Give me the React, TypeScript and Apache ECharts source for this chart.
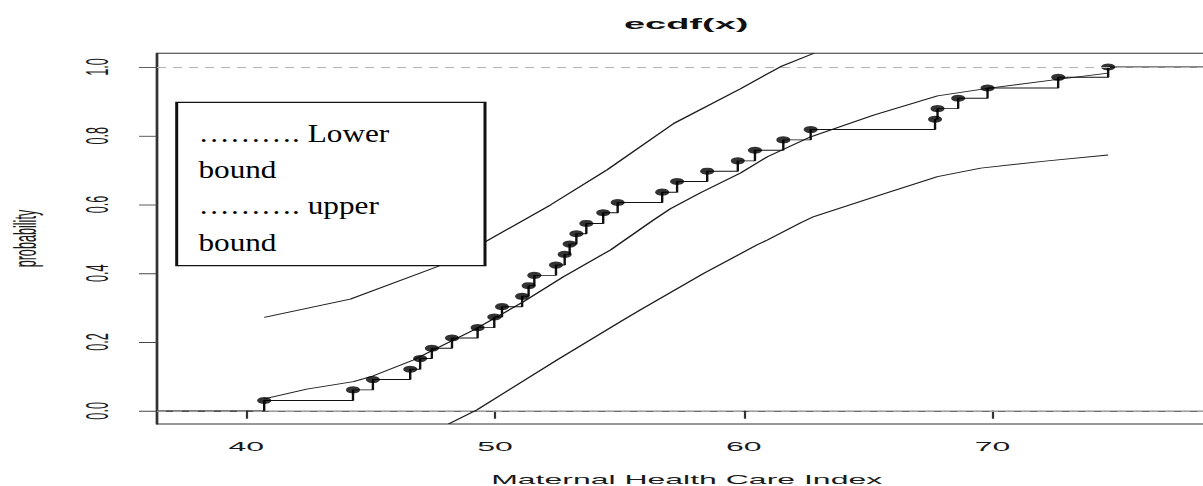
import React, { useEffect, useRef } from "react";
import * as echarts from "echarts";

// ---------- data ----------
const ecdfX = [
  40.72, 44.29, 45.09, 46.59, 46.99, 47.46, 48.27, 49.3, 49.97, 50.28, 51.09,
  51.35, 51.58, 52.45, 52.8, 53.0, 53.27, 53.67, 54.35, 54.93, 56.72, 57.32,
  58.53, 59.76, 60.45, 61.59, 62.69, 67.69, 67.79, 68.62, 69.8, 72.64, 74.65,
];
const ecdfP = [
  0.03, 0.061, 0.091, 0.121, 0.152, 0.182, 0.212, 0.242, 0.273, 0.303, 0.333,
  0.364, 0.394, 0.424, 0.455, 0.485, 0.515, 0.545, 0.576, 0.606, 0.636, 0.667,
  0.697, 0.727, 0.758, 0.788, 0.818, 0.848, 0.879, 0.909, 0.939, 0.97, 1.0,
];
const midX = [
  40.72, 42.43, 44.31, 45.11, 46.72, 47.8, 49.14, 51.14, 52.75, 54.64, 56.37,
  57.05, 58.26, 59.87, 60.95, 62.69, 65.22, 67.79, 69.8, 72.62, 74.65,
];
const midP = [
  0.035, 0.063, 0.085, 0.102, 0.148, 0.187, 0.235, 0.317, 0.39, 0.468, 0.555,
  0.588, 0.634, 0.692, 0.739, 0.797, 0.86, 0.916, 0.938, 0.964, 0.982,
];
const upperX = [40.72, 44.18, 47.67, 49.54, 52.23, 54.51, 57.19, 59.87, 61.48, 62.82];
const upperP = [0.272, 0.325, 0.419, 0.489, 0.599, 0.701, 0.836, 0.937, 1.001, 1.04];
const lowerX = [
  48.13, 49.28, 52.49, 55.17, 55.85, 58.4, 60.54, 60.95, 62.29, 62.82, 65.5,
  67.79, 69.53, 72.21, 74.65,
];
const lowerP = [
  -0.038, 0.003, 0.148, 0.265, 0.294, 0.4, 0.483, 0.497, 0.547, 0.565, 0.628,
  0.681, 0.706, 0.727, 0.744,
];
const refLines = [0, 1];
const xTicks = [40, 50, 60, 70];
const yTicks = [0, 0.2, 0.4, 0.6, 0.8, 1.0];
const legendLines = ["………. Lower", "bound", "………. upper", "bound"];

// ---------- layout (the original figure was stretched horizontally) ----------
const SX = 2;
const SY = 0.79;
const W = 1203 / SX;
const H = 486 / SY;
const X_MIN = 36.41;
const X_MAX = 79.0;
const Y_MIN = -0.038;
const Y_MAX = 1.04;

const FONT = '"Liberation Sans", Arial, Helvetica, sans-serif';
const SERIF = '"Liberation Serif", "Times New Roman", serif';

export default function App() {
  const ref = useRef<HTMLDivElement>(null);

  useEffect(() => {
    if (!ref.current) return;
    const chart = echarts.init(ref.current, undefined, { renderer: "svg" });

    const pxu = 24.85 / SX;
    const gridLeft = 157 / SX;
    const gridW = (X_MAX - X_MIN) * pxu;
    const gridRight = W - gridLeft - gridW;
    const gridTop = 53.24 / SY;
    const gridBottom = (486 - 424.07) / SY;

    const zip = (xs: number[], ys: number[]) => xs.map((x, i) => [x, ys[i]]);
    const stepData = [[X_MIN, 0], ...zip(ecdfX, ecdfP), [X_MAX, 1]];
    const curveStyle = { color: "#1e1e1e", width: 1.1 };

    const legendY = [169.6, 214.6, 260.8, 307.6];

    const option: any = {
      animation: false,
      backgroundColor: "#ffffff",
      title: {
        text: "ecdf(x)",
        left: gridLeft + gridW / 2,
        top: 20,
        textAlign: "center",
        padding: 0,
        textStyle: {
          fontFamily: FONT,
          fontSize: 19,
          fontWeight: "bold",
          color: "#111",
        },
      },
      grid: {
        left: gridLeft,
        right: gridRight,
        top: gridTop,
        bottom: gridBottom,
        containLabel: false,
        outerBoundsMode: "none",
        show: true,
        borderColor: "#333",
        borderWidth: 1.2,
        backgroundColor: "transparent",
      },
      xAxis: {
        type: "value",
        min: X_MIN,
        max: X_MAX,
        name: "Maternal Health Care Index",
        nameLocation: "middle",
        nameGap: 63,
        nameTextStyle: { fontFamily: FONT, fontSize: 16, color: "#1a1a1a" },
        axisLine: { show: true, lineStyle: { color: "#333", width: 1.2 } },
        axisTick: {
          show: true,
          length: 10,
          customValues: xTicks,
          lineStyle: { color: "#333", width: 1.1 },
        },
        axisLabel: {
          customValues: xTicks,
          margin: 21,
          fontFamily: FONT,
          fontSize: 16,
          color: "#1a1a1a",
          formatter: (v: number) => String(v),
        },
        splitLine: { show: false },
      },
      yAxis: {
        type: "value",
        min: Y_MIN,
        max: Y_MAX,
        name: "probability",
        nameLocation: "middle",
        nameRotate: 90,
        nameGap: 58,
        nameTextStyle: { fontFamily: FONT, fontSize: 16, color: "#1a1a1a" },
        axisLine: { show: true, lineStyle: { color: "#333", width: 1.2 } },
        axisTick: {
          show: true,
          length: 9,
          customValues: yTicks,
          lineStyle: { color: "#444", width: 1.1 },
        },
        axisLabel: {
          customValues: yTicks,
          rotate: 90,
          margin: 22,
          fontFamily: FONT,
          fontSize: 16,
          color: "#1a1a1a",
          formatter: (v: number) => v.toFixed(1),
        },
        splitLine: { show: false },
      },
      series: [
        {
          name: "ecdf",
          type: "line",
          data: stepData,
          step: "end",
          showSymbol: false,
          lineStyle: { color: "#111", width: 1.2 },
          z: 3,
        },
        {
          name: "fit",
          type: "line",
          data: zip(midX, midP),
          showSymbol: false,
          lineStyle: curveStyle,
          z: 2,
        },
        {
          name: "upper bound",
          type: "line",
          data: zip(upperX, upperP),
          showSymbol: false,
          lineStyle: curveStyle,
          z: 2,
        },
        {
          name: "lower bound",
          type: "line",
          data: zip(lowerX, lowerP),
          showSymbol: false,
          lineStyle: curveStyle,
          z: 2,
        },
        {
          name: "points",
          type: "scatter",
          data: zip(ecdfX, ecdfP),
          symbol: "circle",
          symbolSize: [7, 9],
          itemStyle: { color: "#000" },
          z: 5,
        },
        {
          name: "reference lines",
          type: "line",
          data: [],
          z: 8,
          markLine: {
            silent: true,
            symbol: ["none", "none"],
            label: { show: false },
            lineStyle: { color: "#b3b3b3", type: [4.5, 3.5], width: 1.4 },
            data: refLines.map((v) => ({ yAxis: v })),
            z: 8,
          },
        },
      ],
      graphic: {
        elements: [
          {
            type: "rect",
            z: 100,
            shape: { x: 88.35, y: 129.5, width: 154.15, height: 206.8 },
            style: { fill: "#ffffff", stroke: "#111", lineWidth: 1.5 },
          },
          ...legendLines.map((t, i) => ({
            type: "text",
            z: 101,
            x: 99.2,
            y: legendY[i],
            scaleX: 0.488,
            style: {
              text: t,
              fontFamily: SERIF,
              fontSize: 32,
              fill: "#000",
              textVerticalAlign: "middle",
              verticalAlign: "middle",
              textAlign: "left",
              align: "left",
            },
          })),
        ],
      },
    };

    chart.setOption(option);
    return () => chart.dispose();
  }, []);

  return (
    <div
      ref={ref}
      style={{
        position: "fixed",
        left: 0,
        top: 0,
        width: W,
        height: H,
        transform: `scale(${SX}, ${SY})`,
        transformOrigin: "0 0",
        background: "#fff",
      }}
    />
  );
}
